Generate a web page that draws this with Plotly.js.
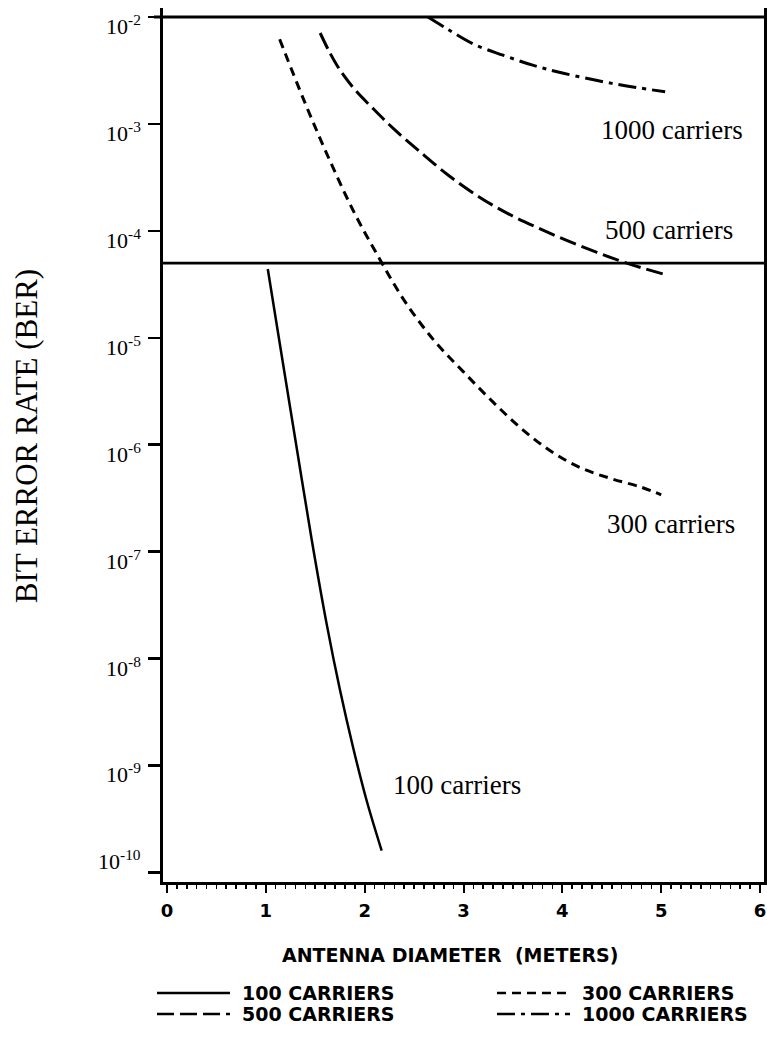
<!DOCTYPE html>
<html><head><meta charset="utf-8">
<script src="https://cdn.plot.ly/plotly-3.0.1.min.js"></script>
<style>html,body{margin:0;padding:0;background:#fff}#chart{width:767px;height:1037px}</style>
</head><body><div id="chart"></div>
<script>
// ---- data ----
const diam100 = [1.02, 1.14, 1.30, 1.464, 1.616, 1.75, 1.885, 2.02, 2.172];
const ber100  = [4.4e-5, 9.0e-6, 1.1e-6, 1.3e-7, 2.1e-8, 5.1e-9, 1.45e-9, 4.7e-10, 1.6e-10];

const diam300 = [1.14, 1.40, 1.65, 1.90, 2.15, 2.40, 2.70, 3.00, 3.30, 3.60, 3.90, 4.20, 4.50, 4.80, 5.00];
const ber300  = [6.2e-3, 1.55e-3, 4.5e-4, 1.45e-4, 5.5e-5, 2.24e-5, 9.5e-6, 4.8e-6, 2.5e-6, 1.38e-6, 8.5e-7, 6.0e-7, 4.8e-7, 4.0e-7, 3.4e-7];

const diam500 = [1.55, 1.65, 1.75, 1.90, 2.10, 2.30, 2.55, 2.85, 3.15, 3.45, 3.75, 4.05, 4.35, 4.65, 5.04];
const ber500  = [7.1e-3, 4.6e-3, 3.2e-3, 2.1e-3, 1.35e-3, 8.9e-4, 5.6e-4, 3.3e-4, 2.1e-4, 1.45e-4, 1.07e-4, 8.1e-5, 6.3e-5, 5.0e-5, 3.9e-5];

const diam1000 = [2.64, 2.85, 3.10, 3.40, 3.70, 4.00, 4.50, 5.04];
const ber1000  = [1.0e-2, 7.6e-3, 5.6e-3, 4.4e-3, 3.55e-3, 3.0e-3, 2.4e-3, 2.0e-3];

const seriesNames = ['100 CARRIERS', '300 CARRIERS', '500 CARRIERS', '1000 CARRIERS'];
const curveLabels = ['100 carriers', '300 carriers', '500 carriers', '1000 carriers'];
const curveLabelX = [2.93, 5.10, 5.08, 5.11];
const curveLabelY = [6.6e-10, 1.8e-7, 1.02e-4, 8.8e-4];

const xTickVals = [0, 1, 2, 3, 4, 5, 6];
const xTickLabels = ['0', '1', '2', '3', '4', '5', '6'];
const yTickVals = [1e-2, 1e-3, 1e-4, 1e-5, 1e-6, 1e-7, 1e-8, 1e-9, 1e-10];
const yTickLabels = ['10<sup>-2</sup>', '10<sup>-3</sup>', '10<sup>-4</sup>', '10<sup>-5</sup>', '10<sup>-6</sup>',
                     '10<sup>-7</sup>', '10<sup>-8</sup>', '10<sup>-9</sup>', '10<sup>-10</sup>'];
const xTitle = 'ANTENNA DIAMETER  (METERS)';
const yTitle = 'BIT ERROR RATE (BER)';
const thresholdBER = 5e-5;
const topBER = 1e-2;

// ---- axes ranges / styles ----
const xRange = [-0.04, 6.04];
const yRangeLog = [-10.09, -1.915];
const dashes = ['solid', '9px,6px', '17px,6px', '18px,6px,4px,6px'];
const serif = 'Liberation Serif, Times New Roman, serif';
const block = 'DejaVu Sans, sans-serif';
// fraction of the y axis for a BER value (log scale)
const yFrac = v => (Math.log10(v) - yRangeLog[0]) / (yRangeLog[1] - yRangeLog[0]);

const xs = [diam100, diam300, diam500, diam1000];
const ys = [ber100, ber300, ber500, ber1000];
const traces = xs.map((x, i) => ({
  x: x, y: ys[i], type: 'scatter', mode: 'lines', name: seriesNames[i],
  line: {color: '#000', width: i === 0 ? 2.5 : 3, dash: dashes[i], shape: 'spline', smoothing: 1},
  hoverinfo: 'skip'
}));

const annotations = [];
yTickVals.forEach((v, i) => {
  annotations.push({
    xref: 'paper', x: 0, xshift: -20, xanchor: 'right',
    yref: 'y', y: Math.log10(v), yshift: i === yTickVals.length - 1 ? 12 : -8, yanchor: 'middle',
    text: yTickLabels[i], showarrow: false,
    font: {family: serif, size: 22, color: '#000'}
  });
});
curveLabels.forEach((t, i) => {
  annotations.push({
    xref: 'x', x: curveLabelX[i], yref: 'y', y: Math.log10(curveLabelY[i]),
    xanchor: 'center', yanchor: 'middle', text: t, showarrow: false,
    font: {family: serif, size: 27, color: '#000'}
  });
});
annotations.push({
  xref: 'paper', x: 0.4775, yref: 'paper', y: -0.0835, xanchor: 'center', yanchor: 'middle',
  text: xTitle, showarrow: false, font: {family: block, size: 19, color: '#000', weight: 'bold'}
});
annotations.push({
  xref: 'paper', x: -0.228, yref: 'paper', y: 0.51, xanchor: 'center', yanchor: 'middle',
  text: yTitle, textangle: -90, showarrow: false, font: {family: serif, size: 31, color: '#000'}
});

// legend (drawn below the plot)
const legX0 = [-0.010, 0.5557], legX1 = [0.1115, 0.6772], legTextX = [0.128, 0.694];
const legY = [-0.127, -0.151];
const shapes = [
  {type: 'line', xref: 'paper', x0: -0.015, x1: 1, yref: 'paper', y0: yFrac(topBER), y1: yFrac(topBER),
   line: {color: '#000', width: 3}},
  {type: 'line', xref: 'paper', x0: -0.003, x1: 1.006, yref: 'paper', y0: yFrac(thresholdBER), y1: yFrac(thresholdBER),
   line: {color: '#000', width: 2.6}}
];
seriesNames.forEach((n, i) => {
  const col = i % 2, row = Math.floor(i / 2);
  shapes.push({type: 'line', xref: 'paper', yref: 'paper', x0: legX0[col], x1: legX1[col], y0: legY[row], y1: legY[row],
    line: {color: '#000', width: 2.6, dash: dashes[i]}});
  annotations.push({xref: 'paper', yref: 'paper', x: legTextX[col], y: legY[row], xanchor: 'left', yanchor: 'middle',
    text: n, showarrow: false, font: {family: block, size: 19, color: '#000', weight: 'bold'}});
});

const layout = {
  width: 767, height: 1037,
  margin: {l: 163, r: 3, t: 8, b: 155, pad: 0},
  paper_bgcolor: '#fff', plot_bgcolor: '#fff',
  showlegend: false,
  xaxis: {
    range: xRange, tickmode: 'array', tickvals: xTickVals, ticktext: xTickLabels,
    ticks: 'outside', ticklen: 8, tickwidth: 2, tickcolor: '#000',
    showline: true, linewidth: 2.6, linecolor: '#000', showgrid: false, zeroline: false,
    tickfont: {family: block, size: 18, color: '#000', weight: 'bold'}, ticklabelstandoff: 3,
    minor: {dtick: 0.1, tick0: 0, ticks: 'outside', ticklen: 4, tickwidth: 1.6, tickcolor: '#000', showgrid: false}
  },
  yaxis: {
    type: 'log', range: yRangeLog, tickmode: 'array', tickvals: yTickVals,
    ticks: 'outside', ticklen: 12, tickwidth: 2.5, tickcolor: '#000', showticklabels: false,
    showline: true, mirror: true, linewidth: 2.6, linecolor: '#000', showgrid: false, zeroline: false
  },
  shapes: shapes,
  annotations: annotations
};

Plotly.newPlot('chart', traces, layout, {staticPlot: true, displayModeBar: false});
</script></body></html>
